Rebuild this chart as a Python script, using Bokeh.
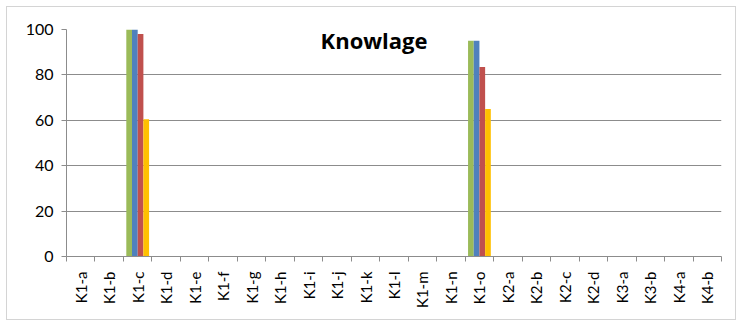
from math import pi
from bokeh.plotting import figure
from bokeh.models import ColumnDataSource, Range1d, FixedTicker, LinearAxis, Label
from bokeh.transform import dodge
from bokeh.embed import file_html
from bokeh.resources import INLINE

categories = ["K1-a", "K1-b", "K1-c", "K1-d", "K1-e", "K1-f", "K1-g", "K1-h",
              "K1-i", "K1-j", "K1-k", "K1-l", "K1-m", "K1-n", "K1-o",
              "K2-a", "K2-b", "K2-c", "K2-d", "K3-a", "K3-b", "K4-a", "K4-b"]
series_green = [0, 0, 100, 0, 0, 0, 0, 0, 0, 0, 0, 0, 0, 0, 95, 0, 0, 0, 0, 0, 0, 0, 0]
series_blue = [0, 0, 100, 0, 0, 0, 0, 0, 0, 0, 0, 0, 0, 0, 95, 0, 0, 0, 0, 0, 0, 0, 0]
series_red = [0, 0, 98, 0, 0, 0, 0, 0, 0, 0, 0, 0, 0, 0, 83.5, 0, 0, 0, 0, 0, 0, 0, 0]
series_yellow = [0, 0, 60.5, 0, 0, 0, 0, 0, 0, 0, 0, 0, 0, 0, 65, 0, 0, 0, 0, 0, 0, 0, 0]
y_ticks = [0, 20, 40, 60, 80, 100]
title_text = "Knowlage"

n = len(categories)
centers = [i + 0.5 for i in range(n)]
bounds = [float(i) for i in range(n + 1)]

source = ColumnDataSource(dict(x=centers, green=series_green, blue=series_blue,
                               red=series_red, yellow=series_yellow))

FONT = "Lato"
GRID = "#8c8c8c"

p = figure(width=728, height=312, output_backend="svg", toolbar_location=None,
           x_range=Range1d(0, n), y_range=Range1d(0, 100),
           x_axis_type=None, min_border_left=59, min_border_right=14,
           min_border_top=22, min_border_bottom=63)
p.frame_width = 655
p.frame_height = 227
p.outline_line_color = None
p.background_fill_color = "white"
p.border_fill_color = "white"
p.styles = {"border": "1px solid #d4d4d4", "margin": "6px 0 0 6px"}

colors = [("green", "#9BBB59"), ("blue", "#4F81BD"), ("red", "#C0504D"), ("yellow", "#FFC000")]
offsets = [-0.3, -0.1, 0.1, 0.3]
for (col, c), off in zip(colors, offsets):
    p.vbar(x=dodge("x", off, range=p.x_range), top=col, width=0.2, source=source,
           fill_color=c, line_color=None)

xaxis = LinearAxis(ticker=FixedTicker(ticks=centers, minor_ticks=bounds))
xaxis.major_label_overrides = {c: lab for c, lab in zip(centers, categories)}
xaxis.major_label_orientation = pi / 2
xaxis.major_tick_line_color = None
xaxis.minor_tick_in = 0
xaxis.minor_tick_out = 5
xaxis.minor_tick_line_color = GRID
xaxis.axis_line_color = GRID
xaxis.major_label_text_font = FONT
xaxis.major_label_text_font_size = "15px"
xaxis.major_label_text_color = "black"
xaxis.major_label_standoff = 9
p.add_layout(xaxis, "below")

yaxis = p.yaxis[0]
yaxis.ticker = FixedTicker(ticks=y_ticks)
yaxis.major_tick_in = 0
yaxis.major_tick_out = 5
yaxis.minor_tick_line_color = None
yaxis.major_tick_line_color = GRID
yaxis.axis_line_color = GRID
yaxis.major_label_text_font = FONT
yaxis.major_label_text_font_size = "16px"
yaxis.major_label_text_color = "black"
yaxis.major_label_standoff = 8

p.ygrid.ticker = FixedTicker(ticks=y_ticks)
p.ygrid.grid_line_color = GRID
p.xgrid.grid_line_color = None

p.add_layout(Label(x=10.8, y=95.5, text=title_text, text_align="center",
                   text_baseline="middle", text_font="Open Sans",
                   text_font_style="bold", text_font_size="22px", text_color="black"))

open("out.html", "w").write(file_html(p, INLINE))
